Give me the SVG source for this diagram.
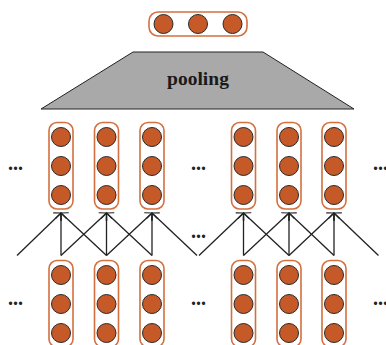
<svg xmlns="http://www.w3.org/2000/svg" width="386" height="345" viewBox="0 0 386 345">
<defs>
<style>
.box{fill:none;stroke:#d4703f;stroke-width:1.6}
.n{fill:#c55a28;stroke:#2a2a2a;stroke-width:1}
.c{stroke:#222;stroke-width:1.3;fill:none;marker-end:url(#ah)}
.dots{font-family:"Liberation Serif",serif;font-weight:bold;font-size:20px;fill:#222}
.lbl{font-family:"Liberation Serif",serif;font-weight:bold;font-size:19.5px;fill:#1a1a1a}
</style>
<marker id="ah" markerUnits="userSpaceOnUse" markerWidth="14" markerHeight="14" refX="0" refY="0" viewBox="-8 -7 9 14" orient="auto">
<path d="M-5.5,-5.5 L0,0 L-5.5,5.5" fill="none" stroke="#222" stroke-width="1.2"/>
</marker>
<g id="col">
<rect class="box" x="-12" y="0" width="24" height="86.5" rx="8"/>
<circle class="n" cx="0" cy="14.5" r="9.5"/>
<circle class="n" cx="0" cy="43.5" r="9.5"/>
<circle class="n" cx="0" cy="72.5" r="9.5"/>
</g>
</defs>
<rect width="386" height="345" fill="#fff"/>

<g id="output">
<rect class="box" x="149" y="12" width="98" height="24" rx="9"/>
<circle class="n" cx="163.5" cy="24" r="9.5"/>
<circle class="n" cx="198" cy="24" r="9.5"/>
<circle class="n" cx="232.5" cy="24" r="9.5"/>
</g>

<g id="pooling">
<polygon points="133,52 263,52 354,109 41,109" fill="#a9a9a9" stroke="#222" stroke-width="1"/>
<text class="lbl" x="198" y="85" text-anchor="middle">pooling</text>
</g>

<g id="top-1"><use href="#col" x="61" y="122.5"/></g>
<g id="top-2"><use href="#col" x="106.5" y="122.5"/></g>
<g id="top-3"><use href="#col" x="152" y="122.5"/></g>
<g id="top-4"><use href="#col" x="243.5" y="122.5"/></g>
<g id="top-5"><use href="#col" x="289" y="122.5"/></g>
<g id="top-6"><use href="#col" x="334" y="122.5"/></g>

<g id="bottom-1"><use href="#col" x="61" y="260.5"/></g>
<g id="bottom-2"><use href="#col" x="106.5" y="260.5"/></g>
<g id="bottom-3"><use href="#col" x="152" y="260.5"/></g>
<g id="bottom-4"><use href="#col" x="243.5" y="260.5"/></g>
<g id="bottom-5"><use href="#col" x="289" y="260.5"/></g>
<g id="bottom-6"><use href="#col" x="334" y="260.5"/></g>

<g id="connectors">
<line class="c" x1="17" y1="255.5" x2="61" y2="213"/>
<line class="c" x1="61" y1="255.5" x2="61" y2="213"/>
<line class="c" x1="106.5" y1="255.5" x2="61" y2="213"/>
<line class="c" x1="61" y1="255.5" x2="106.5" y2="213"/>
<line class="c" x1="106.5" y1="255.5" x2="106.5" y2="213"/>
<line class="c" x1="152" y1="255.5" x2="106.5" y2="213"/>
<line class="c" x1="106.5" y1="255.5" x2="152" y2="213"/>
<line class="c" x1="152" y1="255.5" x2="152" y2="213"/>
<line class="c" x1="197" y1="255.5" x2="152" y2="213"/>
<line class="c" x1="199" y1="255.5" x2="243.5" y2="213"/>
<line class="c" x1="243.5" y1="255.5" x2="243.5" y2="213"/>
<line class="c" x1="289" y1="255.5" x2="243.5" y2="213"/>
<line class="c" x1="243.5" y1="255.5" x2="289" y2="213"/>
<line class="c" x1="289" y1="255.5" x2="289" y2="213"/>
<line class="c" x1="334" y1="255.5" x2="289" y2="213"/>
<line class="c" x1="289" y1="255.5" x2="334" y2="213"/>
<line class="c" x1="334" y1="255.5" x2="334" y2="213"/>
<line class="c" x1="378.5" y1="255.5" x2="334" y2="213"/>
</g>

<g id="ellipses">
<text class="dots" x="8" y="169.5">...</text>
<text class="dots" x="191" y="169.5">...</text>
<text class="dots" x="373" y="169.5">...</text>
<text class="dots" x="191" y="237.5">...</text>
<text class="dots" x="8" y="304.5">...</text>
<text class="dots" x="191" y="304.5">...</text>
<text class="dots" x="373" y="304.5">...</text>
</g>
</svg>
